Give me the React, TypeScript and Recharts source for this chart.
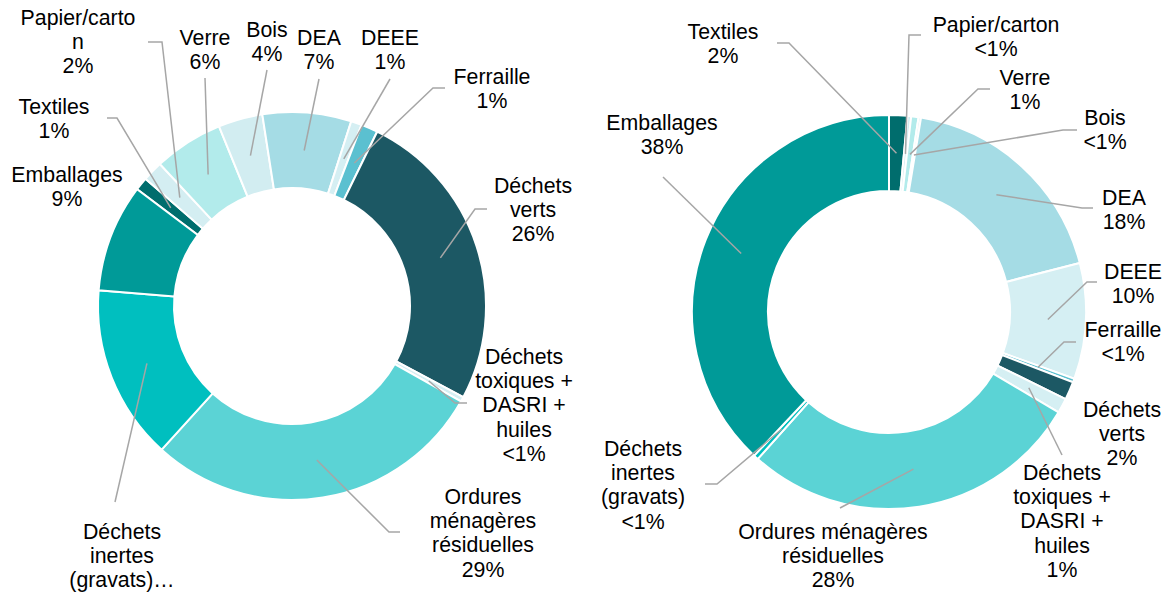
import { PieChart, Pie, Cell } from 'recharts'

// same category order in both donuts, clockwise
const CATEGORIES = [
  'Textiles',
  'Papier/carton',
  'Verre',
  'Bois',
  'DEA',
  'DEEE',
  'Ferraille',
  'Déchets verts',
  'Déchets toxiques + DASRI + huiles',
  'Ordures ménagères résiduelles',
  'Déchets inertes (gravats)',
  'Emballages',
]

const LEFT_VALUES = [1.1, 1.7, 5.8, 3.7, 7.4, 0.9, 1.4, 25.6, 0.4, 28.6, 14.6, 9.0]
const RIGHT_VALUES = [1.5, 0.3, 0.6, 0.2, 18.4, 9.5, 0.3, 1.5, 1.2, 28.1, 0.4, 38.0]

const COLORS = [
  '#006d6d',
  '#d4eef2',
  '#b2ebeb',
  '#d2edf1',
  '#a5dce5',
  '#d5eff3',
  '#5bc0d0',
  '#1c5864',
  '#d5eff3',
  '#5bd3d5',
  '#00bfbf',
  '#009a98',
]

// how the category names wrap in each label box
const LEFT_NAME_LINES = [
  ['Textiles'],
  ['Papier/carto', 'n'],
  ['Verre'],
  ['Bois'],
  ['DEA'],
  ['DEEE'],
  ['Ferraille'],
  ['Déchets', 'verts'],
  ['Déchets', 'toxiques +', 'DASRI +', 'huiles'],
  ['Ordures', 'ménagères', 'résiduelles'],
  ['Déchets', 'inertes', '(gravats)…'],
  ['Emballages'],
]
const RIGHT_NAME_LINES = [
  ['Textiles'],
  ['Papier/carton'],
  ['Verre'],
  ['Bois'],
  ['DEA'],
  ['DEEE'],
  ['Ferraille'],
  ['Déchets', 'verts'],
  ['Déchets', 'toxiques +', 'DASRI +', 'huiles'],
  ['Ordures ménagères', 'résiduelles'],
  ['Déchets', 'inertes', '(gravats)'],
  ['Emballages'],
]
// the left inertes label is cut before its percentage
const LEFT_HIDE_PCT = [10]
const RIGHT_HIDE_PCT: number[] = []

// label placement: text centre (tx, first line ty), leader start (lx, ly), elbow (ex, ey)
type LabelPos = { tx: number; ty: number; lx?: number; ly?: number; ex?: number; ey?: number }

const LEFT_LABEL_POS: LabelPos[] = [
  { tx: 54, ty: 107, lx: 107, ly: 118, ex: 117, ey: 118 },
  { tx: 78, ty: 18, lx: 148, ly: 42, ex: 162, ey: 42 },
  { tx: 205, ty: 38, lx: 205, ly: 78, ex: 205, ey: 78 },
  { tx: 267, ty: 30, lx: 267, ly: 70, ex: 267, ey: 70 },
  { tx: 319, ty: 38, lx: 319, ly: 79, ex: 319, ey: 79 },
  { tx: 390, ty: 38, lx: 390, ly: 79, ex: 390, ey: 79 },
  { tx: 492, ty: 77, lx: 445, ly: 88, ex: 433, ey: 88 },
  { tx: 533, ty: 186, lx: 487, ly: 209, ex: 475, ey: 209 },
  { tx: 524, ty: 357, lx: 467, ly: 403, ex: 455, ey: 403 },
  { tx: 483, ty: 497, lx: 400, ly: 532, ex: 389, ey: 532 },
  { tx: 122, ty: 532, lx: 115, ly: 502, ex: 115, ey: 502 },
  { tx: 67, ty: 175 },
]

const RIGHT_LABEL_POS: LabelPos[] = [
  { tx: 723, ty: 32, lx: 777, ly: 43, ex: 789, ey: 43 },
  { tx: 996, ty: 25, lx: 921, ly: 35, ex: 909, ey: 35 },
  { tx: 1025, ty: 78, lx: 990, ly: 89, ex: 978, ey: 89 },
  { tx: 1105, ty: 118, lx: 1077, ly: 130, ex: 1063, ey: 130 },
  { tx: 1124, ty: 198, lx: 1093, ly: 208, ex: 1082, ey: 208 },
  { tx: 1133, ty: 272, lx: 1097, ly: 282, ex: 1087, ey: 282 },
  { tx: 1123, ty: 330, lx: 1076, ly: 342, ex: 1064, ey: 342 },
  { tx: 1122, ty: 410 },
  { tx: 1062, ty: 473, lx: 1062, ly: 455, ex: 1062, ey: 455 },
  { tx: 833, ty: 532, lx: 840, ly: 508, ex: 840, ey: 508 },
  { tx: 643, ty: 449, lx: 705, ly: 484, ex: 717, ey: 484 },
  { tx: 662, ty: 123, lx: 663, ly: 177, ex: 663, ey: 177 },
]

const RAD = Math.PI / 180
const FONT = '"Liberation Sans", Arial, sans-serif'
const LINE_H = 24.2

function fmtPct(v: number) {
  const r = Math.round(v)
  return r < 1 ? '<1%' : `${r}%`
}

function makeLabel(nameLines: string[][], positions: LabelPos[], hidePct: number[], values: number[]) {
  return (props: any) => {
    const i = props.index ?? CATEGORIES.indexOf(props.name)
    const pos = positions[i]
    const lines = hidePct.includes(i) ? nameLines[i] : [...nameLines[i], fmtPct(values[i])]
    const r = (props.innerRadius + props.outerRadius) / 2
    const px = props.cx + r * Math.cos(-props.midAngle * RAD)
    const py = props.cy + r * Math.sin(-props.midAngle * RAD)
    return (
      <g>
        {pos.lx !== undefined && (
          <polyline
            points={`${pos.lx},${pos.ly} ${pos.ex},${pos.ey} ${px},${py}`}
            fill="none"
            stroke="#a6a6a6"
            strokeWidth={1.5}
          />
        )}
        {lines.map((t, k) => (
          <text
            key={k}
            x={pos.tx}
            y={pos.ty + k * LINE_H}
            textAnchor="middle"
            dominantBaseline="central"
            fontSize={21.3}
            fontFamily={FONT}
            fill="#000"
          >
            {t}
          </text>
        ))}
      </g>
    )
  }
}

const leftData = CATEGORIES.map((name, i) => ({ name, value: LEFT_VALUES[i] }))
const rightData = CATEGORIES.map((name, i) => ({ name, value: RIGHT_VALUES[i] }))

export default function App() {
  return (
    <div style={{ position: 'absolute', left: 0, top: 0, width: 1168, height: 594, background: '#fff' }}>
      <PieChart width={1168} height={594} margin={{ top: 0, right: 0, bottom: 0, left: 0 }}>
        <Pie
          data={leftData}
          dataKey="value"
          nameKey="name"
          cx={292}
          cy={306}
          innerRadius={118}
          outerRadius={194}
          startAngle={143}
          endAngle={-217}
          stroke="#ffffff"
          strokeWidth={2}
          labelLine={false}
          label={makeLabel(LEFT_NAME_LINES, LEFT_LABEL_POS, LEFT_HIDE_PCT, LEFT_VALUES)}
          isAnimationActive={false}
        >
          {leftData.map((_, i) => (
            <Cell key={i} fill={COLORS[i]} />
          ))}
        </Pie>
        <Pie
          data={rightData}
          dataKey="value"
          nameKey="name"
          cx={889}
          cy={312}
          innerRadius={121}
          outerRadius={197}
          startAngle={90}
          endAngle={-270}
          stroke="#ffffff"
          strokeWidth={2}
          labelLine={false}
          label={makeLabel(RIGHT_NAME_LINES, RIGHT_LABEL_POS, RIGHT_HIDE_PCT, RIGHT_VALUES)}
          isAnimationActive={false}
        >
          {rightData.map((_, i) => (
            <Cell key={i} fill={COLORS[i]} />
          ))}
        </Pie>
      </PieChart>
    </div>
  )
}
